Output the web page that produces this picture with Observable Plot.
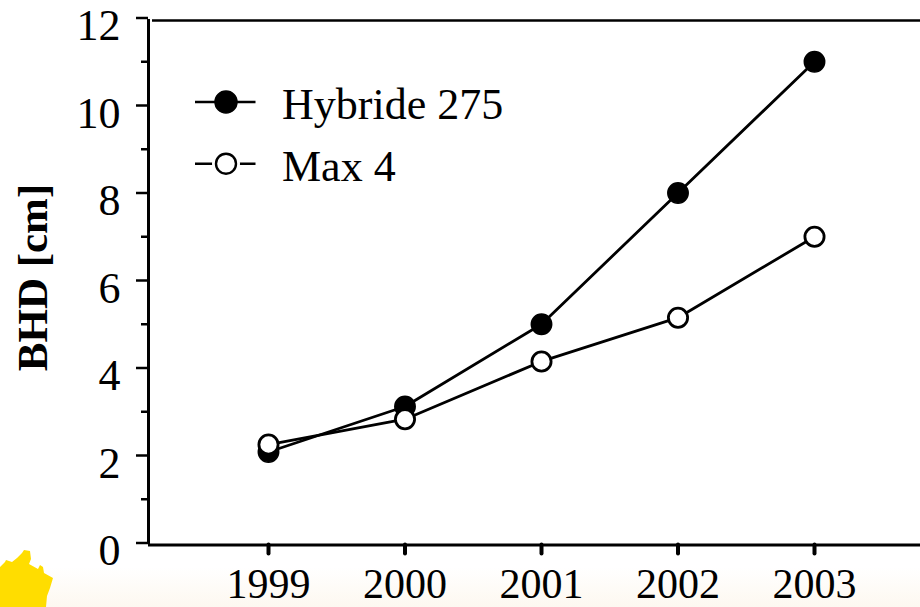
<!DOCTYPE html>
<html>
<head>
<meta charset="utf-8">
<script src="https://cdn.jsdelivr.net/npm/d3@7"></script>
<script src="https://cdn.jsdelivr.net/npm/@observablehq/plot@0.6"></script>
<style>
html,body{margin:0;padding:0;background:#fff;}
#wrap{position:relative;width:920px;height:607px;overflow:hidden;}
#fade{position:absolute;left:0;right:0;bottom:0;height:40px;background:linear-gradient(#ffffff,#fdf8f0);}
#sun{position:absolute;left:0;top:550px;width:56px;height:57px;background:#ffdd00;
clip-path:polygon(0 17px,5px 12px,6px 10px,12px 12px,17px 8px,22px 3px,24px 0,30px 1px,31px 9px,29px 14px,38px 19px,40px 15px,43px 17px,44px 23px,53px 28px,50px 38px,47px 46px,46px 57px,0 57px);}
#chart{position:absolute;left:0;top:0;}
</style>
</head>
<body>
<div id="wrap"><div id="fade"></div><div id="sun"></div><div id="chart"></div></div>
<script>
const years = [1999, 2000, 2001, 2002, 2003];
const hybride = [2.08, 3.12, 5.0, 8.0, 11.0];
const max4 = [2.25, 2.83, 4.15, 5.15, 7.0];
const majorTicks = [0, 2, 4, 6, 8, 10, 12];
const minorTicks = [1, 3, 5, 7, 9, 11];
const seriesNames = ["Hybride 275", "Max 4"];

const rows = a => years.map((year, i) => ({year, value: a[i]}));
const ink = "#000";
const x1 = 1999 - 120 / 136.5, x2 = 2003 + 106 / 136.5;
const legX1 = 1999 - 73 / 136.5, legX2 = 1999 - 12.5 / 136.5, legDot = 1999 - 42.5 / 136.5, legText = 1999 + 13.5 / 136.5;
const legY1 = 10.08, legY2 = 8.67;
const stem = {draw(c, l) { c.moveTo(0, 0); c.lineTo(0, -l); }};

const plot = Plot.plot({
  width: 920, height: 607,
  marginLeft: 148, marginRight: 0, marginTop: 17.5, marginBottom: 64.5,
  x: {type: "linear", domain: [x1, x2]},
  y: {type: "linear", domain: [0, 12]},
  style: {fontFamily: "'Liberation Serif', serif", fontSize: "40px", color: ink, background: "transparent", overflow: "visible"},
  marks: [
    Plot.ruleY([0], {x1, x2, dy: 2, stroke: ink, strokeWidth: 3}),
    Plot.ruleY([12], {x1: x1 + 4 / 136.5, x2, dy: 2.5, stroke: ink, strokeWidth: 2.5}),
    Plot.ruleX([x1], {y1: 0, y2: 12, dy: 1.5, stroke: ink, strokeWidth: 3}),
    Plot.axisY({ticks: minorTicks, tickSize: 7, tickFormat: () => "", label: null, strokeWidth: 2.5, stroke: ink, anchor: "left"}),
    Plot.axisY({ticks: majorTicks, tickSize: 12, tickFormat: () => "", label: null, strokeWidth: 2.5, stroke: ink, anchor: "left"}),
    Plot.axisY({ticks: majorTicks, tickSize: 0, tickPadding: 28, dy: 8, label: null, anchor: "left", fontSize: 44, fill: ink}),
    Plot.axisX({ticks: years, tickSize: 0, tickPadding: 25, tickFormat: d => String(d), label: null, fontSize: 42, fill: ink, anchor: "bottom"}),
    Plot.vector(years, {x: d => d, y: () => 0, length: 9, anchor: "start", rotate: 180, dy: 1.5, stroke: ink, strokeWidth: 4, strokeLinecap: "round", shape: stem}),

    Plot.line(rows(hybride), {x: "year", y: "value", stroke: ink, strokeWidth: 2.8}),
    Plot.line(rows(max4), {x: "year", y: "value", stroke: ink, strokeWidth: 2.8}),
    Plot.dot(rows(hybride), {x: "year", y: "value", r: 10.2, fill: ink, stroke: ink}),
    Plot.dot(rows(max4), {x: "year", y: "value", r: 9.6, fill: "#fff", stroke: ink, strokeWidth: 2.8}),

    Plot.ruleY([legY1, legY2], {x1: legX1, x2: legX2, stroke: ink, strokeWidth: 2.4}),
    Plot.dot([legY2], {x: () => legDot, y: d => d, r: 14, fill: "#fff"}),
    Plot.dot([legY1], {x: () => legDot, y: d => d, r: 11, fill: ink, stroke: ink}),
    Plot.dot([legY2], {x: () => legDot, y: d => d, r: 10, fill: "#fff", stroke: ink, strokeWidth: 2.4}),
    Plot.text([seriesNames[0]], {x: () => legText, y: () => legY1, dy: 3, text: d => d, textAnchor: "start", fontSize: 44, fill: ink}),
    Plot.text([seriesNames[1]], {x: () => legText, y: () => legY2, dy: 3.5, text: d => d, textAnchor: "start", fontSize: 44, fill: ink}),

    Plot.text(["BHD [cm]"], {frameAnchor: "left", textAnchor: "middle", dx: -115, dy: -3, rotate: -90, text: d => d, fontSize: 43, fontWeight: "bold", fill: ink})
  ]
});
document.getElementById("chart").appendChild(plot);
</script>
</body>
</html>
